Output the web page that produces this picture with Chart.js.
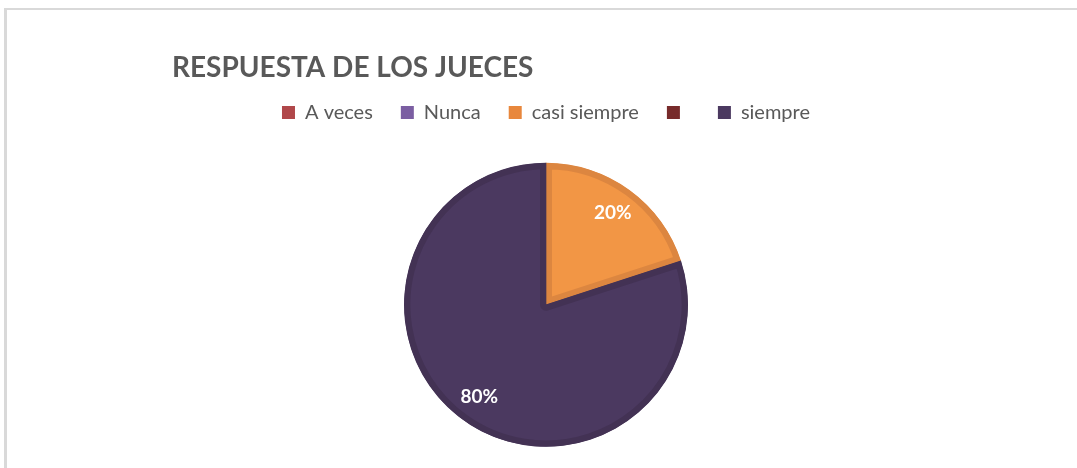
<!DOCTYPE html>
<html>
<head>
<meta charset="utf-8">
<script src="https://cdn.jsdelivr.net/npm/chart.js@4.4.0/dist/chart.umd.min.js"></script>
<style>
  html, body { margin: 0; padding: 0; background: #fff; overflow: hidden; width: 1077px; height: 468px; }
  #frame {
    position: absolute; left: 4px; top: 8px; width: 1080px; height: 470px;
    border-left: 3px solid #d9d9d9; border-top: 2px solid #d9d9d9;
  }
  #wrap { position: absolute; left: 0; top: 0; width: 1077px; height: 477px; }
</style>
</head>
<body>
<div id="frame"></div>
<div id="wrap"><canvas id="myChart" width="1077" height="477"></canvas></div>
<script>
const labels = ['A veces', 'Nunca', 'casi siempre', '', 'siempre'];
const values = [0, 0, 20, 0, 80];
const fills = ['#b0474a', '#7b5ea2', '#f29645', '#772b2b', '#4b3960'];
const borders = ['#a03f42', '#6d5290', '#dc8640', '#6a2626', '#433254'];
const legendColors = ['#b0474a', '#7b5ea2', '#e8873c', '#772b2b', '#4b3960'];

const sliceLabels = {
    id: 'sliceLabels',
    afterDatasetsDraw(chart) {
        const ctx = chart.ctx;
        const meta = chart.getDatasetMeta(0);
        const total = values.reduce((a, b) => a + b, 0);
        ctx.save();
        ctx.fillStyle = '#ffffff';
        ctx.font = 'bold 19px Lato';
        ctx.textAlign = 'center';
        ctx.textBaseline = 'middle';
        meta.data.forEach((arc, i) => {
            if (!values[i]) return;
            const p = arc.getProps(['x', 'y', 'startAngle', 'endAngle', 'outerRadius']);
            const mid = (p.startAngle + p.endAngle) / 2;
            const r = p.outerRadius * 0.8;
            const pct = Math.round(values[i] / total * 100) + '%';
            ctx.fillText(pct, p.x + Math.cos(mid) * r, p.y + Math.sin(mid) * r);
        });
        ctx.restore();
    }
};

var ctx = document.getElementById('myChart').getContext('2d');
var myChart = new Chart(ctx, {
    type: 'pie',
    data: {
        labels: labels,
        datasets: [{
            data: values,
            backgroundColor: fills,
            borderColor: borders,
            borderWidth: 6,
            borderAlign: 'inner',
            radius: 142
        }]
    },
    options: {
        responsive: false,
        animation: false,
        layout: {
            padding: { left: 172, right: 157, top: 51, bottom: 0 }
        },
        plugins: {
            title: {
                display: true,
                text: 'RESPUESTA DE LOS JUECES',
                align: 'start',
                color: '#595959',
                font: { family: 'Lato', size: 28, weight: 'bold' },
                padding: { top: 0, bottom: -10 }
            },
            legend: {
                position: 'top',
                labels: {
                    color: '#595959',
                    font: { family: 'Lato', size: 20 },
                    boxWidth: 13,
                    boxHeight: 13,
                    padding: 28,
                    generateLabels(chart) {
                        return labels.map((text, i) => ({
                            text: text,
                            fillStyle: legendColors[i],
                            strokeStyle: legendColors[i],
                            lineWidth: 0,
                            fontColor: '#595959',
                            hidden: false,
                            index: i
                        }));
                    }
                }
            },
            tooltip: { enabled: false }
        }
    },
    plugins: [sliceLabels]
});
</script>
</body>
</html>
